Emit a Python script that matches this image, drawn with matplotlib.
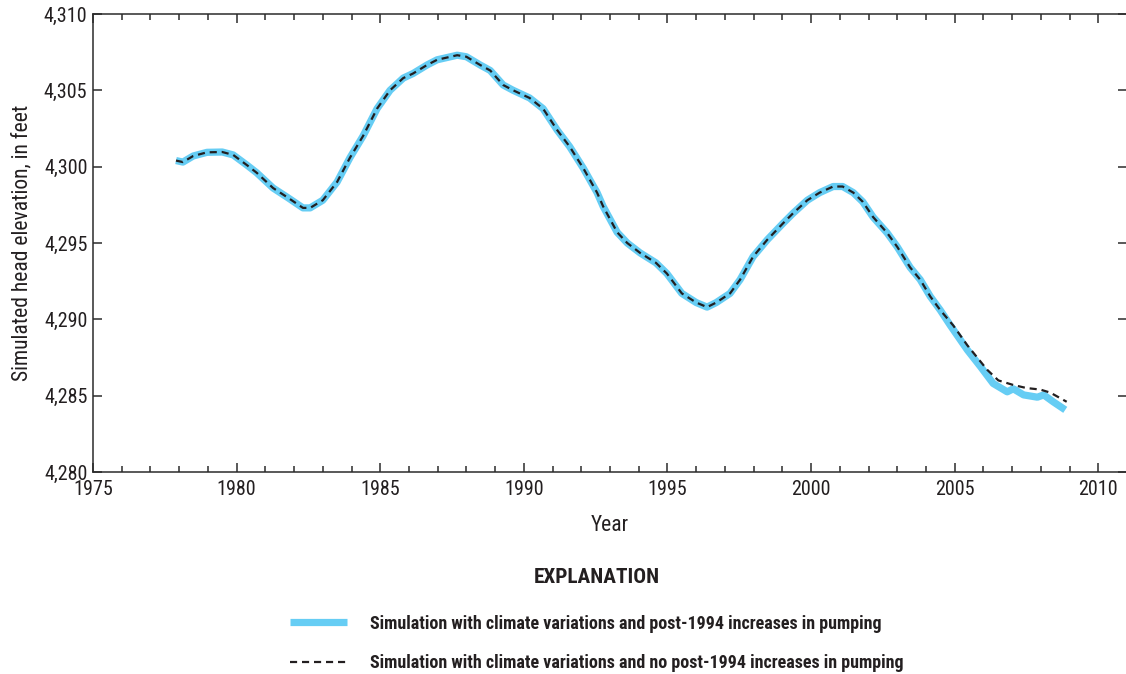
import matplotlib

matplotlib.use("Agg")
import matplotlib.pyplot as plt
from matplotlib import font_manager
from matplotlib.ticker import FuncFormatter, MultipleLocator

# shared part of both simulations (identical through ~2004.5)
common_years = [
    1977.89, 1978.13, 1978.49, 1978.97, 1979.5, 1979.88, 1980.36, 1980.7,
    1981.27, 1981.76, 1982.31, 1982.56, 1983.0, 1983.5, 1983.95, 1984.4,
    1984.89, 1985.34, 1985.8, 1986.14, 1986.63, 1986.98, 1987.68, 1988.0,
    1988.48, 1988.83, 1989.28, 1989.63, 1990.2, 1990.67, 1991.16, 1991.6,
    1992.07, 1992.55, 1992.76, 1993.25, 1993.6, 1994.05, 1994.6, 1994.98,
    1995.5, 1996.0, 1996.38, 1996.7, 1997.18, 1997.53, 1997.98, 1998.47,
    1999.03, 1999.38, 1999.87, 2000.3, 2000.77, 2001.1, 2001.47, 2001.8,
    2002.16, 2002.65, 2003.0, 2003.45, 2003.8, 2004.15, 2004.5,
]
common_head = [
    4300.4, 4300.3, 4300.7, 4300.94, 4300.96, 4300.77, 4300.1, 4299.6,
    4298.6, 4298.0, 4297.3, 4297.3, 4297.8, 4299.0, 4300.6, 4302.0,
    4303.8, 4305.0, 4305.8, 4306.1, 4306.66, 4307.0, 4307.3, 4307.2,
    4306.66, 4306.3, 4305.35, 4305.0, 4304.5, 4303.8, 4302.4, 4301.3,
    4299.9, 4298.3, 4297.4, 4295.7, 4295.0, 4294.35, 4293.7, 4293.0,
    4291.7, 4291.1, 4290.8, 4291.1, 4291.7, 4292.6, 4294.1, 4295.2,
    4296.3, 4296.96, 4297.8, 4298.3, 4298.7, 4298.7, 4298.3, 4297.7,
    4296.7, 4295.66, 4294.75, 4293.4, 4292.6, 4291.5, 4290.6,
]

# post-2004 tails
pumping_years = [2004.85, 2005.44, 2005.9, 2006.34, 2006.83, 2007.04, 2007.4,
                 2007.88, 2008.1, 2008.43, 2008.85]
pumping_head = [4289.6, 4288.0, 4286.9, 4285.8, 4285.25, 4285.45, 4285.05,
                4284.9, 4285.05, 4284.6, 4284.07]

no_pumping_years = [2004.95, 2005.44, 2006.13, 2006.52, 2007.04, 2007.5,
                    2007.98, 2008.33, 2008.9]
no_pumping_head = [4289.6, 4288.3, 4286.7, 4286.0, 4285.7, 4285.5,
                   4285.4, 4285.2, 4284.6]

LABEL_PUMPING = "Simulation with climate variations and post-1994 increases in pumping"
LABEL_NO_PUMPING = "Simulation with climate variations and no post-1994 increases in pumping"

# the original uses a condensed face; take the narrowest one that is installed
available = {f.name for f in font_manager.fontManager.ttflist}
narrow = next((name for name in ["Liberation Sans Narrow", "Roboto Condensed",
                                 "Open Sans Condensed", "Noto Sans Condensed", "Roboto"]
               if name in available), "DejaVu Sans")
plt.rcParams["font.family"] = [narrow, "DejaVu Sans"]

AXIS_COLOR = "#2b2b2b"
TEXT_COLOR = "#231f20"

fig = plt.figure(figsize=(11.26, 6.74), dpi=100)
ax = fig.add_axes([93 / 1126, 202 / 674, 1034 / 1126, 458 / 674])

ax.plot(common_years + pumping_years, common_head + pumping_head,
        color="#66cdf4", lw=5.2, solid_capstyle="butt", label=LABEL_PUMPING)
ax.plot(common_years + no_pumping_years, common_head + no_pumping_head,
        color=TEXT_COLOR, lw=1.6, dashes=(3.2, 2.2), label=LABEL_NO_PUMPING)

ax.set_xlim(1975, 2011)
ax.set_ylim(4280, 4310)
ax.xaxis.set_major_locator(MultipleLocator(5))
ax.xaxis.set_minor_locator(MultipleLocator(1))
ax.yaxis.set_major_locator(MultipleLocator(5))
ax.yaxis.set_major_formatter(FuncFormatter(lambda v, _: f"{v:,.0f}"))

ax.tick_params(which="both", direction="in", top=True, right=True,
               color=AXIS_COLOR, width=1.1, labelsize=14.5, labelcolor=TEXT_COLOR)
ax.tick_params(which="major", length=6.5)
ax.tick_params(which="minor", length=4.5)
ax.tick_params(axis="x", pad=6)
ax.tick_params(axis="y", pad=4)
for side in ["left", "bottom", "top"]:
    ax.spines[side].set_color(AXIS_COLOR)
    ax.spines[side].set_linewidth(1.1)
ax.spines["right"].set_visible(False)

ax.set_xlabel("Year", fontsize=15.5, color=TEXT_COLOR, labelpad=11)
ax.set_ylabel("Simulated head elevation, in feet", fontsize=15.5, color=TEXT_COLOR, labelpad=8)

handles, labels = ax.get_legend_handles_labels()
leg = fig.legend(handles, labels, loc="center", bbox_to_anchor=(597 / 1126, 1 - 620 / 674),
                 frameon=False, handlelength=3.15, handletextpad=1.27, labelspacing=1.2,
                 prop={"weight": "bold", "size": 13},
                 title="EXPLANATION", title_fontproperties={"weight": "bold", "size": 15.3})
leg._legend_box.sep = 20
for text in leg.get_texts():
    text.set_color(TEXT_COLOR)
leg.get_title().set_color(TEXT_COLOR)

fig.savefig("out.png", dpi=100)
